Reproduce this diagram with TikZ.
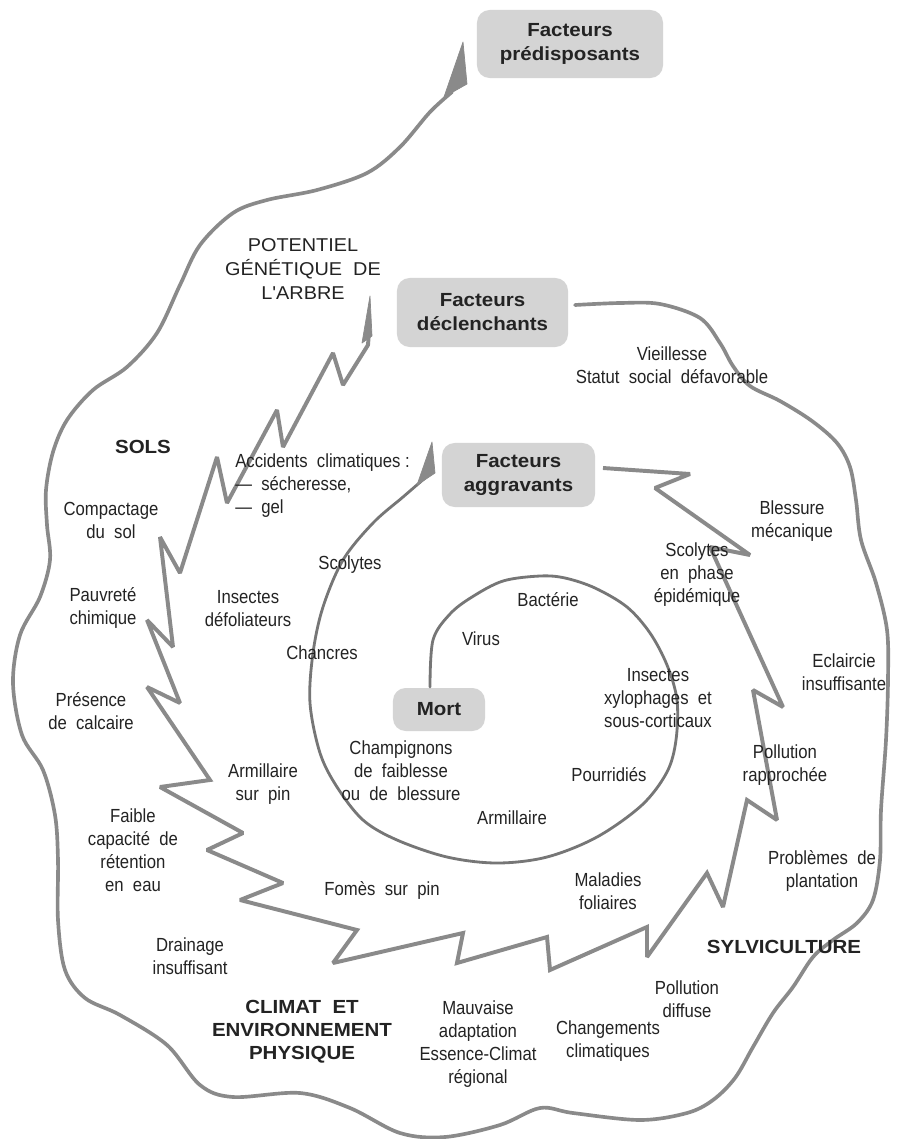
\documentclass[tikz,border=0pt]{standalone}
\usepackage{fontspec}
\setmainfont{Liberation Sans}
\newfontfamily\condf[FakeStretch=0.88]{Liberation Sans}
\newfontfamily\widef[FakeStretch=1.07]{Liberation Sans}
\newfontfamily\boldf[FakeStretch=1.08]{Liberation Sans}
\definecolor{boxgray}{RGB}{212,212,212}
\definecolor{linegray}{RGB}{138,138,138}
\definecolor{innergray}{RGB}{118,118,118}
\definecolor{txt}{RGB}{35,35,35}
\tikzset{
  lab/.style={font=\condf\fontsize{13.5}{16.4}\selectfont, align=center, inner sep=0pt, text=txt},
  labl/.style={font=\condf\fontsize{13.5}{16.4}\selectfont, align=left, inner sep=0pt, text=txt},
  head/.style={font=\boldf\bfseries\fontsize{13.5}{16.5}\selectfont, align=center, inner sep=0pt, text=txt},
  caps/.style={font=\widef\fontsize{13.2}{17}\selectfont, align=center, inner sep=0pt, text=txt},
  factbox/.style={fill=boxgray, rounded corners=9pt, inner sep=0pt, align=center,
     font=\boldf\bfseries\fontsize{13.5}{17}\selectfont, text=txt},
  outerline/.style={draw=linegray, line width=2.6pt, line cap=round},
  zigline/.style={draw=linegray, line width=2.8pt, line join=miter, miter limit=2},
  innerline/.style={draw=innergray, line width=2pt, line cap=round},
  tipfill/.style={fill=linegray, draw=linegray, line width=0.5pt, line join=round}
}
\begin{document}
\begin{tikzpicture}[x=0.025cm,y=-0.025cm]
\fill[white] (0,0) rectangle (896,1139);
\useasboundingbox (0,0) rectangle (896,1139);

% ---- boxes ----
\node[factbox, minimum width=4.65cm, minimum height=1.7cm] (pred) at (570,44) {Facteurs\\prédisposants};
\node[factbox, minimum width=4.275cm, minimum height=1.725cm] (decl) at (482.5,312.5) {Facteurs\\déclenchants};
\node[factbox, minimum width=3.825cm, minimum height=1.6cm] (aggr) at (518.5,475) {Facteurs\\aggravants};
\node[factbox, minimum width=2.3cm, minimum height=1.075cm] (mort) at (439,709.5) {Mort};

% ---- outer spiral: from "déclenchants" round to "prédisposants" ----
\draw[outerline] plot[smooth, tension=0.55] coordinates {
 (575,305) (620,303) (660,304) (700,318) (720,343) (733,366) (750,386) (780,401)
 (812,421) (837,443) (850,467) (856,500) (861,540) (876,583) (887,630) (888,680)
 (886,740) (881,810) (880,860) (873,900) (857,923) (833,940) (813,957) (793,987)
 (773,1013) (753,1047) (735,1078) (713,1100) (687,1113) (640,1120) (573,1113)
 (540,1108) (500,1125) (445,1137) (400,1133) (350,1108) (300,1093) (233,1097)
 (200,1085) (167,1045) (120,1015) (85,998) (65,970) (58,920) (58,860) (55,815)
 (43,770) (22,735) (13,683) (20,635) (40,597) (50,560) (47,525) (46,490) (53,452)
 (67,420) (93,390) (127,367) (157,333) (180,285) (200,245) (233,213) (267,200)
 (317,190) (367,173) (400,147) (430,112) (452,92)};
\fill[tipfill] (463,42) -- (467,84) -- (444,97) -- cycle;

% ---- zigzag spiral: from "aggravants" round to "déclenchants" ----
\draw[zigline] (603,468) -- (690,474) -- (655,488) -- (750,555) -- (710,547)
 -- (783,707) -- (753,690) -- (777,820) -- (747,800) -- (723,907) -- (707,873)
 -- (647,957) -- (647,927) -- (550,970) -- (547,937) -- (457,963) -- (463,933)
 -- (333,963) -- (357,930) -- (240,900) -- (283,883) -- (207,850) -- (243,833)
 -- (160,787) -- (210,780) -- (147,687) -- (180,703) -- (147,620) -- (173,647)
 -- (160,537) -- (180,573) -- (217,457) -- (227,503) -- (277,410) -- (283,447)
 -- (333,353) -- (343,385) -- (368,345) -- (369,332);
\fill[tipfill] (370,296) -- (372,336) -- (362,343) -- cycle;

% ---- inner spiral: from "Mort" to "aggravants" ----
\draw[innerline] plot[smooth, tension=0.55] coordinates {
 (430,687) (433,640) (450,614) (472,597) (503,581) (540,576) (565,578) (595,588)
 (627,607) (650,633) (667,665) (677,700) (676,740) (667,772) (642,805) (597,837)
 (547,857) (497,863) (447,857) (397,840) (363,820) (337,787) (320,753) (310,703)
 (313,653) (323,607) (343,560) (373,523) (403,497) (425,478)};
\fill[tipfill] (432,442) -- (435,473) -- (417,485) -- cycle;

% ---- headings ----
\node[caps] (pot) at (303,269) {POTENTIEL\\GÉNÉTIQUE~~DE\\L'ARBRE};
\node[head] (sols) at (143,447) {SOLS};
\node[head] (clim) at (302,1032) {CLIMAT~~ET\\ENVIRONNEMENT\\PHYSIQUE};
\node[head] (sylv) at (784,947) {SYLVICULTURE};

% ---- labels ----
\node[lab] (vieil) at (672,365) {Vieillesse\\Statut~~social~~défavorable};
\node[labl, anchor=west] (acc) at (235,486) {Accidents~~climatiques~:\\—~~sécheresse,\\—~~gel};
\node[lab] (comp) at (111,520) {Compactage\\du~~sol};
\node[lab] (pauv) at (103,608) {Pauvreté\\chimique};
\node[lab] (pres) at (91,711) {Présence\\de~~calcaire};
\node[lab] (faib) at (133,850) {Faible\\capacité~~de\\rétention\\en~~eau};
\node[lab] (drain) at (190,956) {Drainage\\insuffisant};
\node[lab] (insd) at (248,609) {Insectes\\défoliateurs};
\node[lab] (scol) at (350,565) {Scolytes};
\node[lab] (chan) at (322,653) {Chancres};
\node[lab] (virus) at (481,639) {Virus};
\node[lab] (bact) at (548,600) {Bactérie};
\node[lab] (armp) at (263,784) {Armillaire\\sur~~pin};
\node[lab] (champ) at (401,771) {Champignons\\de~~faiblesse\\ou~~de~~blessure};
\node[lab] (arm) at (512,818) {Armillaire};
\node[lab] (pourr) at (609,775) {Pourridiés};
\node[lab] (insx) at (658,698) {Insectes\\xylophages~~et\\sous-corticaux};
\node[lab] (scolep) at (697,575) {Scolytes\\en~~phase\\épidémique};
\node[lab] (bless) at (792,521) {Blessure\\mécanique};
\node[lab] (eclai) at (844,672) {Eclaircie\\insuffisante};
\node[lab] (pollr) at (785,765) {Pollution\\rapprochée};
\node[lab] (probl) at (822,871) {Problèmes~~de\\plantation};
\node[lab] (fomes) at (382,890) {Fomès~~sur~~pin};
\node[lab] (malad) at (608,891) {Maladies\\foliaires};
\node[lab] (polld) at (687,999) {Pollution\\diffuse};
\node[lab] (chang) at (608,1041) {Changements\\climatiques};
\node[lab] (mauv) at (478,1044) {Mauvaise\\adaptation\\Essence-Climat\\régional};
\end{tikzpicture}
\end{document}
